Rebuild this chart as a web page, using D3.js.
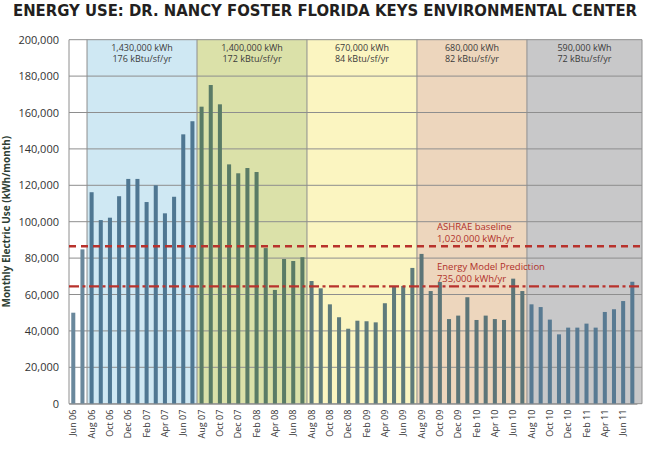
<!DOCTYPE html>
<html>
<head>
<meta charset="utf-8">
<script src="https://cdn.jsdelivr.net/npm/d3@7/dist/d3.min.js"></script>
<style>
  body { margin: 0; background: #fff; }
  text { font-family: "Open Sans", "DejaVu Sans", sans-serif; }
</style>
</head>
<body>
<div id="chart"></div>
<script>
// Months on the x axis (one bar each)
const months = [
    "Jun 06","Jul 06","Aug 06","Sep 06","Oct 06","Nov 06","Dec 06",
    "Jan 07","Feb 07","Mar 07","Apr 07","May 07","Jun 07","Jul 07","Aug 07","Sep 07","Oct 07","Nov 07","Dec 07",
    "Jan 08","Feb 08","Mar 08","Apr 08","May 08","Jun 08","Jul 08","Aug 08","Sep 08","Oct 08","Nov 08","Dec 08",
    "Jan 09","Feb 09","Mar 09","Apr 09","May 09","Jun 09","Jul 09","Aug 09","Sep 09","Oct 09","Nov 09","Dec 09",
    "Jan 10","Feb 10","Mar 10","Apr 10","May 10","Jun 10","Jul 10","Aug 10","Sep 10","Oct 10","Nov 10","Dec 10",
    "Jan 11","Feb 11","Mar 11","Apr 11","May 11","Jun 11","Jul 11"
];

// Monthly electric use, kWh/month
const usage = [
    50000, 84800, 116200, 100900, 102200, 114000, 123500,
    123500, 110800, 120000, 104600, 113700, 148000, 155200, 163200, 175100, 164500, 131500, 126600,
    129500, 127300, 85500, 62500, 79500, 78400, 80500, 67400, 63400, 54600, 47500, 41200,
    45600, 45300, 44700, 55200, 64300, 64700, 74600, 82300, 61900, 66900, 46500, 48400,
    58500, 46000, 48400, 46500, 46000, 68700, 61900, 54600, 53100, 46200, 38100, 41800,
    41800, 44000, 41800, 50400, 51900, 56400, 67000
];

// Labelled every other month
const xTickLabels = months.filter((d, i) => i % 2 === 0);

// Yearly shaded periods
const regionStarts = ["Aug 06", "Aug 07", "Aug 08", "Aug 09", "Aug 10"];
const regionKwh = ["1,430,000 kWh", "1,400,000 kWh", "670,000 kWh", "680,000 kWh", "590,000 kWh"];
const regionEui = ["176 kBtu/sf/yr", "172 kBtu/sf/yr", "84 kBtu/sf/yr", "82 kBtu/sf/yr", "72 kBtu/sf/yr"];

// Reference lines (monthly equivalents as drawn)
const refValues = [86500, 64500];
const refLine1 = ["ASHRAE baseline", "Energy Model Prediction"];
const refLine2 = ["1,020,000 kWh/yr", "735,000 kWh/yr"];

const yTicks = [0, 20000, 40000, 60000, 80000, 100000, 120000, 140000, 160000, 180000, 200000];

// colours
const regionFill = ["#cfe8f3", "#dbe1a9", "#fbf5c1", "#edd6bd", "#c8c8c9"];
const regionBar = ["#4f7792", "#5a7b66", "#5f7b7b", "#5c7578", "#587a92"];
const preBar = "#6a889c";
const refColor = "#b8322c";
const gridColor = "#8e8e8e";

const W = 650, H = 454;
const margin = { left: 69, right: 642, top: 39.7, bottom: 403.7 };

const svg = d3.select("#chart").append("svg")
    .attr("width", W)
    .attr("height", H);

// Scales
const x = d3.scaleBand()
    .domain(months)
    .range([margin.left - 0.3, margin.right - 5.1])
    .paddingInner(0.56)
    .paddingOuter(0.28);

const y = d3.scaleLinear()
    .domain([0, 200000])
    .range([margin.bottom, margin.top]);

const gapHalf = x.step() * x.paddingInner() / 2;

// Region backgrounds
const regionX0 = regionStarts.map(m => x(m) - gapHalf);
const regionX1 = regionX0.slice(1).concat([margin.right]);

svg.append("g").selectAll("rect")
    .data(regionStarts)
    .join("rect")
    .attr("x", (d, i) => regionX0[i])
    .attr("y", y(200000))
    .attr("width", (d, i) => regionX1[i] - regionX0[i])
    .attr("height", y(0) - y(200000))
    .attr("fill", (d, i) => regionFill[i]);

// Horizontal grid
svg.append("g").selectAll("line")
    .data(yTicks)
    .join("line")
    .attr("x1", margin.left)
    .attr("x2", margin.right)
    .attr("y1", d => y(d))
    .attr("y2", d => y(d))
    .attr("stroke", gridColor)
    .attr("stroke-width", 1);

// Region borders + plot frame
svg.append("g").selectAll("line")
    .data(regionX0.concat([margin.left, margin.right]))
    .join("line")
    .attr("x1", d => d)
    .attr("x2", d => d)
    .attr("y1", y(200000))
    .attr("y2", y(0))
    .attr("stroke", gridColor)
    .attr("stroke-width", 1);

// Bars
const firstRegion = months.indexOf(regionStarts[0]);
const regionOf = i => i < firstRegion ? -1 : Math.floor((i - firstRegion) / 12);

svg.append("g").selectAll("rect")
    .data(usage)
    .join("rect")
    .attr("x", (d, i) => x(months[i]))
    .attr("y", d => y(d))
    .attr("width", x.bandwidth())
    .attr("height", d => y(0) - y(d))
    .attr("fill", (d, i) => regionOf(i) < 0 ? preBar : regionBar[regionOf(i)]);

// Reference lines
svg.append("g").selectAll("line")
    .data(refValues)
    .join("line")
    .attr("x1", margin.left)
    .attr("x2", margin.right)
    .attr("y1", d => y(d))
    .attr("y2", d => y(d))
    .attr("stroke", refColor)
    .attr("stroke-width", 2.3)
    .attr("stroke-dasharray", (d, i) => i === 0 ? "7,5" : "10,3.5,3,3.5");

const refG = svg.append("g")
    .attr("fill", "#b0302a")
    .style("font-family", "Lato, 'Open Sans', sans-serif")
    .style("font-size", "9.5px");

refValues.forEach((v, i) => {
    refG.append("text")
        .attr("x", regionX0[3] + 20)
        .attr("y", y(v) - 16)
        .text(refLine1[i]);
    refG.append("text")
        .attr("x", regionX0[3] + 20)
        .attr("y", y(v) - 4.5)
        .text(refLine2[i]);
});

// Region labels
const regG = svg.append("g")
    .attr("fill", "#3b3b3b")
    .attr("text-anchor", "middle")
    .style("font-size", "9px");

regionStarts.forEach((m, i) => {
    const mid = (regionX0[i] + regionX1[i]) / 2;
    regG.append("text").attr("x", mid).attr("y", 50.5).text(regionKwh[i]);
    regG.append("text").attr("x", mid).attr("y", 62).text(regionEui[i]);
});

// Y axis
const yAxis = d3.axisLeft(y)
    .tickValues(yTicks)
    .tickFormat(d3.format(","))
    .tickSize(0)
    .tickPadding(10);

svg.append("g")
    .attr("transform", "translate(" + margin.left + ",0)")
    .call(yAxis)
    .call(g => g.select(".domain").remove())
    .call(g => g.selectAll("text")
        .attr("fill", "#333")
        .style("font-size", "11px")
        .style("font-family", "'Open Sans', sans-serif"));

// X axis labels (rotated)
const xAxis = d3.axisBottom(x)
    .tickValues(xTickLabels)
    .tickSize(0)
    .tickPadding(0);

svg.append("g")
    .attr("transform", "translate(0," + margin.bottom + ")")
    .call(xAxis)
    .call(g => g.select(".domain").attr("stroke", gridColor))
    .call(g => g.selectAll("text")
        .attr("transform", "translate(0,6) rotate(-90)")
        .attr("text-anchor", "end")
        .attr("x", 0)
        .attr("y", 0)
        .attr("dy", "0.35em")
        .attr("fill", "#333")
        .style("font-size", "9px")
        .style("font-family", "'Open Sans', sans-serif"));

// Y axis title
svg.append("text")
    .attr("transform", "translate(10," + ((margin.top + margin.bottom) / 2) + ") rotate(-90)")
    .attr("text-anchor", "middle")
    .attr("fill", "#2f3f35")
    .style("font-size", "10px")
    .style("font-weight", "bold")
    .text("Monthly Electric Use (kWh/month)");

// Title
svg.append("text")
    .attr("x", 13)
    .attr("y", 16)
    .attr("textLength", 624)
    .attr("lengthAdjust", "spacingAndGlyphs")
    .attr("fill", "#231f20")
    .style("font-family", "'DejaVu Sans Condensed', 'Liberation Sans Narrow', Roboto, sans-serif")
    .style("font-size", "16px")
    .style("font-weight", "bold")
    .text("ENERGY USE: DR. NANCY FOSTER FLORIDA KEYS ENVIRONMENTAL CENTER");
</script>
</body>
</html>
